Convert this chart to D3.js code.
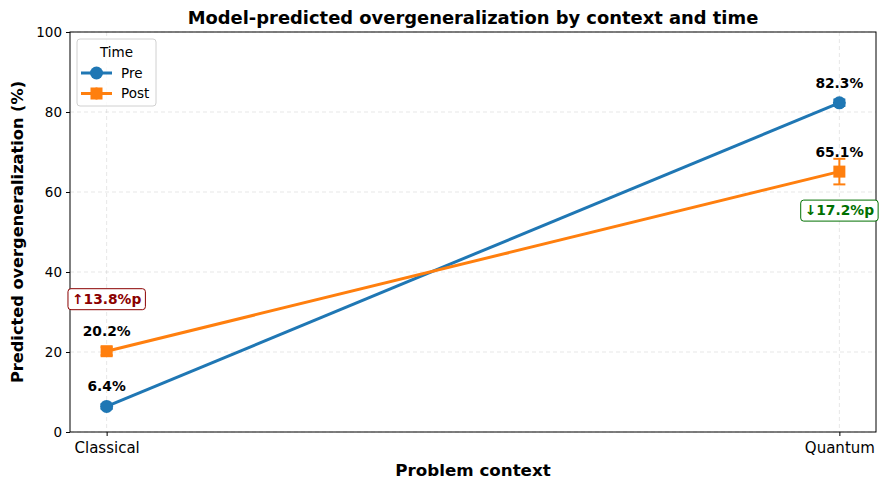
<!DOCTYPE html>
<html>
<head>
<meta charset="utf-8">
<script src="https://cdn.jsdelivr.net/npm/d3@7"></script>
<style>
  body { margin: 0; background: #fff; }
  text { font-family: "DejaVu Sans", sans-serif; }
</style>
</head>
<body>
<script>
// data
var contexts = ["Classical", "Quantum"];
var preValues = [6.4, 82.3];
var postValues = [20.2, 65.1];
var preErr = [0.6, 0.8];
var postErr = [1.0, 3.2];
var yTicks = [0, 20, 40, 60, 80, 100];

var W = 886, H = 490;
var margin = {left: 70, right: 10, top: 32, bottom: 58};

var svg = d3.select("body").append("svg")
    .attr("width", W)
    .attr("height", H);

var x = d3.scaleLinear().domain([-0.05, 1.05]).range([margin.left, W - margin.right]);
var y = d3.scaleLinear().domain([0, 100]).range([H - margin.bottom, margin.top]);

var series = [
    {name: "Pre", values: preValues, err: preErr, color: "#1f77b4", marker: "circle"},
    {name: "Post", values: postValues, err: postErr, color: "#ff7f0e", marker: "square"}
];

// grid
var grid = svg.append("g");
grid.selectAll(".gy").data(yTicks).enter().append("line")
    .attr("x1", margin.left).attr("x2", W - margin.right)
    .attr("y1", d => y(d)).attr("y2", d => y(d))
    .attr("stroke", "#b0b0b0").attr("stroke-opacity", 0.3)
    .attr("stroke-dasharray", "4,3");
grid.selectAll(".gx").data(contexts).enter().append("line")
    .attr("x1", (d, i) => x(i)).attr("x2", (d, i) => x(i))
    .attr("y1", margin.top).attr("y2", H - margin.bottom)
    .attr("stroke", "#b0b0b0").attr("stroke-opacity", 0.3)
    .attr("stroke-dasharray", "4,3");

// axes
var yAxis = svg.append("g")
    .attr("transform", "translate(" + margin.left + ",0)")
    .call(d3.axisLeft(y).tickValues(yTicks).tickSize(4).tickPadding(4));
yAxis.selectAll("text").style("font-size", "13.5px").attr("fill", "#000");

var xAxis = svg.append("g")
    .attr("transform", "translate(0," + (H - margin.bottom) + ")")
    .call(d3.axisBottom(x).tickValues([0, 1]).tickFormat(i => contexts[i]).tickSize(4).tickPadding(6));
xAxis.selectAll("text").style("font-size", "15px").attr("fill", "#000");
svg.selectAll(".domain").remove();

svg.append("rect")
    .attr("x", margin.left).attr("y", margin.top)
    .attr("width", W - margin.left - margin.right)
    .attr("height", H - margin.top - margin.bottom)
    .attr("fill", "none").attr("stroke", "#000").attr("stroke-width", 1);

// lines, error bars, markers
var line = d3.line().x((d, i) => x(i)).y(d => y(d));

series.forEach(function(s) {
    var g = svg.append("g");
    g.append("path")
        .attr("d", line(s.values))
        .attr("fill", "none").attr("stroke", s.color).attr("stroke-width", 3);
    s.values.forEach(function(v, i) {
        var cx = x(i);
        g.append("line")
            .attr("x1", cx).attr("x2", cx)
            .attr("y1", y(v - s.err[i])).attr("y2", y(v + s.err[i]))
            .attr("stroke", s.color).attr("stroke-width", 2);
        [v - s.err[i], v + s.err[i]].forEach(function(e) {
            g.append("line")
                .attr("x1", cx - 6).attr("x2", cx + 6)
                .attr("y1", y(e)).attr("y2", y(e))
                .attr("stroke", s.color).attr("stroke-width", 2);
        });
        if (s.marker == "circle") {
            g.append("circle").attr("cx", cx).attr("cy", y(v)).attr("r", 6.5).attr("fill", s.color);
        } else {
            g.append("rect").attr("x", cx - 6).attr("y", y(v) - 6)
                .attr("width", 12).attr("height", 12).attr("fill", s.color);
        }
        g.append("text")
            .attr("x", cx).attr("y", y(v) - 15)
            .attr("text-anchor", "middle")
            .style("font-size", "13.8px").style("font-weight", "bold")
            .text(v.toFixed(1) + "%");
    });
});

// change annotations
var changes = contexts.map((c, i) => +(postValues[i] - preValues[i]).toFixed(1));
var annOffsets = [-52, 39];
changes.forEach(function(d, i) {
    var up = d > 0;
    var col = up ? "#8b0000" : "#007000";
    var cx = x(i), cy = y(postValues[i]) + annOffsets[i];
    var g = svg.append("g");
    var t = g.append("text")
        .attr("x", cx).attr("y", cy).attr("dy", "0.35em")
        .attr("text-anchor", "middle")
        .style("font-size", "13.8px").style("font-weight", "bold")
        .attr("fill", col)
        .text((up ? "\u2191" : "\u2193") + Math.abs(d).toFixed(1) + "%p");
    var bb = t.node().getBBox();
    g.insert("rect", "text")
        .attr("x", bb.x - 4).attr("y", cy - 10.5)
        .attr("width", bb.width + 8).attr("height", 21)
        .attr("rx", 3)
        .attr("fill", "#fff").attr("stroke", col).attr("stroke-width", 1);
});

// titles
svg.append("text")
    .attr("x", (margin.left + W - margin.right) / 2).attr("y", 24)
    .attr("text-anchor", "middle")
    .style("font-size", "17.9px").style("font-weight", "bold")
    .text("Model-predicted overgeneralization by context and time");

svg.append("text")
    .attr("x", (margin.left + W - margin.right) / 2).attr("y", 476)
    .attr("text-anchor", "middle")
    .style("font-size", "16.7px").style("font-weight", "bold")
    .text("Problem context");

svg.append("text")
    .attr("transform", "translate(23," + ((margin.top + H - margin.bottom) / 2) + ") rotate(-90)")
    .attr("text-anchor", "middle")
    .style("font-size", "16.2px").style("font-weight", "bold")
    .text("Predicted overgeneralization (%)");

// legend
var lg = svg.append("g").attr("transform", "translate(77,39)");
lg.append("rect")
    .attr("width", 79).attr("height", 67).attr("rx", 3)
    .attr("fill", "#fff").attr("fill-opacity", 0.8)
    .attr("stroke", "#d0d0d0");
lg.append("text")
    .attr("x", 39.5).attr("y", 18)
    .attr("text-anchor", "middle")
    .style("font-size", "13.5px")
    .text("Time");
series.forEach(function(s, i) {
    var ly = 34 + i * 20.5;
    lg.append("line").attr("x1", 4).attr("x2", 35).attr("y1", ly).attr("y2", ly)
        .attr("stroke", s.color).attr("stroke-width", 3);
    lg.append("line").attr("x1", 19.5).attr("x2", 19.5).attr("y1", ly - 6).attr("y2", ly + 6)
        .attr("stroke", s.color).attr("stroke-width", 2);
    if (s.marker == "circle") {
        lg.append("circle").attr("cx", 19.5).attr("cy", ly).attr("r", 6.5).attr("fill", s.color);
    } else {
        lg.append("rect").attr("x", 13.5).attr("y", ly - 6).attr("width", 12).attr("height", 12).attr("fill", s.color);
    }
    lg.append("text").attr("x", 44).attr("y", ly).attr("dy", "0.35em")
        .style("font-size", "13.5px").text(s.name);
});
</script>
</body>
</html>
